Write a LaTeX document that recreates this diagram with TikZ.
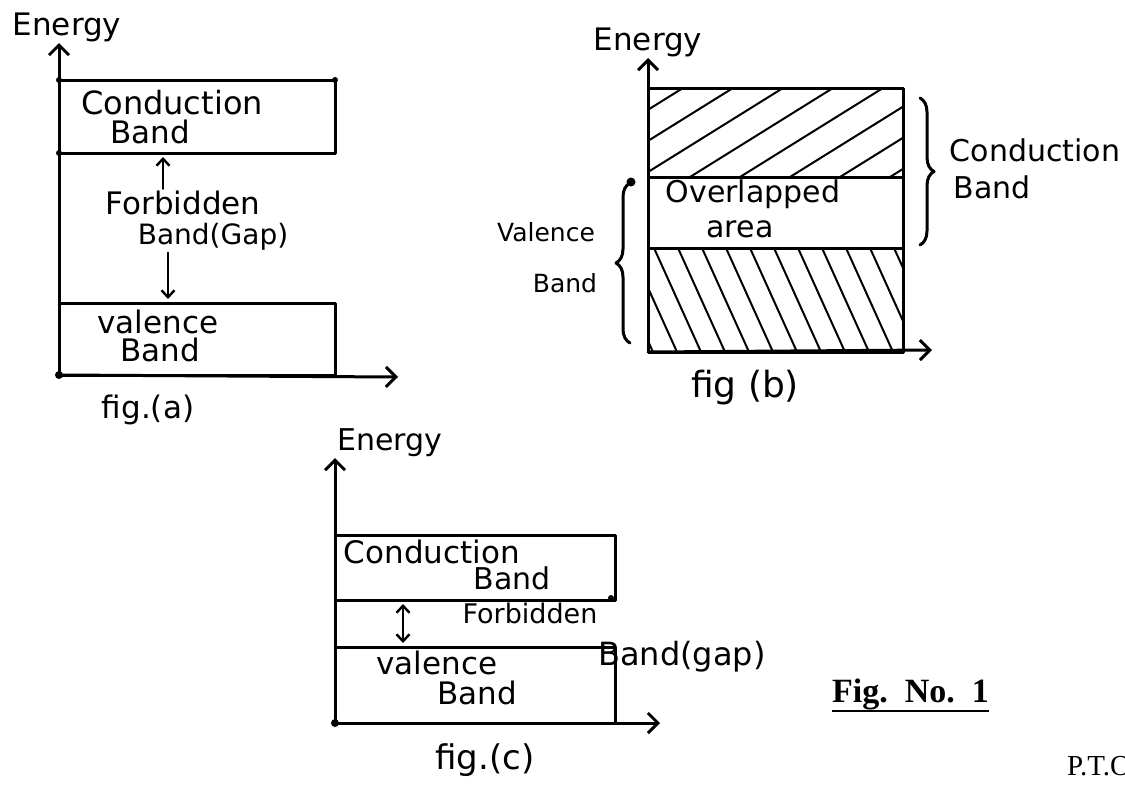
\documentclass[tikz,border=0pt]{standalone}
\usepackage{fontspec}
\setmainfont{Liberation Serif}
\newfontfamily\handfont{DejaVu Sans}
\usetikzlibrary{arrows.meta,decorations.pathreplacing,calc}
\tikzset{
  ink/.style={line width=3pt, line cap=round, line join=round},
  band/.style={draw, ink, inner sep=0pt, outer sep=0pt},
  axisline/.style={ink, -{Straight Barb[length=10pt,width=20pt,line width=3pt]}},
  gaparrow/.style={ink, line width=2.4pt, shorten >=4pt, shorten <=2pt},
  gaptip/.style={-{Straight Barb[length=7pt,width=13pt]}},
  gaptips/.style={{Straight Barb[length=7pt,width=13pt]}-{Straight Barb[length=7pt,width=13pt]}},
  hatch/.style={line width=2pt},
  hw/.style={font=\handfont\fontsize{#1}{#1}\selectfont, inner sep=0pt},
  hw/.default=30,
  curly/.style={ink, decorate, decoration={brace, amplitude=14pt}},
  blob/.style={fill=black, circle, inner sep=0pt, minimum size=6pt},
}
\begin{document}
\begin{tikzpicture}[x=1pt, y=-1pt]
\useasboundingbox (0,0) rectangle (1125,785);
\clip (0,0) rectangle (1125,785);

% ---------------- fig (a) ----------------
\coordinate (oA) at (59,375);
\coordinate (yA) at (59,43);
\coordinate (xA) at (398,377);
\node[band, minimum width=276pt, minimum height=73pt] (cbA) at (197,116.5) {};
\node[band, minimum width=276pt, minimum height=72pt] (vbA) at (197,339) {};
\draw[axisline] (oA) -- (yA);
\draw[axisline] (oA) -- (xA);
\node[hw=31] (enA) at (67,27) {Energy};
\node[hw=32] (condA) at (172,103) {Conduction};
\node[hw=31] (cbandA) at (150,132) {Band};
\node[hw=31] (forbA) at (183,203) {Forbidden};
\node[hw=28] (gapA) at (213,237) {Band(Gap)};
\node[hw=31] (valA) at (158,322) {valence};
\node[hw=31] (vbandA) at (160,350) {Band};
\node[hw=31] (figA) at (148,410) {fig.(a)};
\draw[gaparrow, gaptip] ([xshift=-20pt]forbA.north) -- ([xshift=-20pt]forbA.north |- cbA.south);
\draw[gaparrow, gaptip] ([xshift=-45pt]gapA.south) -- ([xshift=-45pt]gapA.south |- vbA.north);
\node[blob] at (cbA.north west) {};
\node[blob] at (cbA.north east) {};
\node[blob] at (cbA.south west) {};
\node[blob, minimum size=8pt] at (oA) {};

% ---------------- fig (b) ----------------
\coordinate (oB) at (648,352);
\coordinate (yB) at (648,58);
\coordinate (xB) at (932,350);
\node[band, minimum width=255pt, minimum height=89pt] (cbB) at (775.5,132.5) {};
\node[band, minimum width=255pt, minimum height=71pt] (ovB) at (775.5,212.5) {};
\node[band, minimum width=255pt, minimum height=104pt] (vbB) at (775.5,300) {};
\begin{scope}
  \clip (cbB.north west) rectangle (cbB.south east);
  \foreach \xb in {540,590,...,940}
    \draw[hatch] (\xb,177) -- ++(143,-89);
\end{scope}
\begin{scope}
  \clip (vbB.north west) rectangle (vbB.south east);
  \foreach \xt in {606,630,...,910}
    \draw[hatch] (\xt,248) -- ++(47,104);
\end{scope}
\draw[axisline] (oB) -- (yB);
\draw[axisline] (oB) -- (xB);
\node[hw=31] (enB) at (648,42) {Energy};
\node[hw=30] (ovlB) at (753,194) {Overlapped};
\node[hw=30] (areaB) at (740,229) {area};
\draw[curly] ([xshift=17pt,yshift=-10pt]cbB.north east) -- ([xshift=17pt,yshift=3pt]ovB.south east);
\draw[curly] ([xshift=-18pt,yshift=9pt]vbB.south west) -- ([xshift=-18pt,yshift=-6pt]ovB.north west);
\node[blob, minimum size=9pt] at ($(ovB.north west)+(-17,5)$) {};
\node[hw=30] (condB) at (1035,150) {Conduction};
\node[hw=30] (cbandB) at (992,187) {Band};
\node[hw=25] (valB) at (546,232) {Valence};
\node[hw=25] (vbandB) at (565,283) {Band};
\node[hw=36] (figB) at (745,388) {fig (b)};

% ---------------- fig (c) ----------------
\coordinate (oC) at (335,723);
\coordinate (yC) at (335,458);
\coordinate (xC) at (660,723);
\node[band, minimum width=280pt, minimum height=65pt] (cbC) at (475,567.5) {};
\node[band, minimum width=280pt, minimum height=76pt] (vbC) at (475,685) {};
\draw[axisline] (oC) -- (yC);
\draw[axisline] (oC) -- (xC);
\node[hw=30] (enC) at (390,443) {Energy};
\node[hw=31] (condC) at (432,552) {Conduction};
\node[hw=30] (cbandC) at (512,578) {Band};
\node[hw=27] (forbC) at (530,613) {Forbidden};
\node[hw=32] (gapC) at (682,657) {Band(gap)};
\node[hw=31] (valC) at (437,663) {valence};
\node[hw=31] (vbandC) at (477,693) {Band};
\node[hw=34] (figC) at (485,760) {fig.(c)};
\draw[gaparrow, gaptips, shorten <=4pt] (cbC.south -| 403,0) -- (vbC.north -| 403,0);
\node[blob, minimum size=8pt] at (oC) {};
\node[blob] at ($(cbC.south east)+(-4,-2)$) {};

% ---------------- caption ----------------
\node[anchor=base west, inner sep=0pt, font=\bfseries\fontsize{34}{36}\selectfont] (figno) at (832,702) {Fig.\ \ No.\ \ 1};
\draw[line width=2.2pt] ([yshift=-9pt]figno.base west) -- ([yshift=-9pt]figno.base east);
\node[anchor=base west, inner sep=0pt, font=\fontsize{29}{30}\selectfont] (pto) at (1067,775) {P.T.O};
\end{tikzpicture}
\end{document}
